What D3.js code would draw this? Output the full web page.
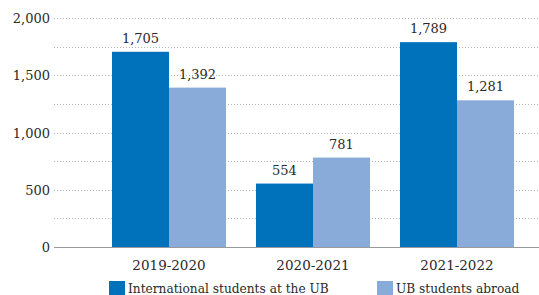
<!DOCTYPE html>
<html><head><meta charset="utf-8">
<script src="https://cdn.jsdelivr.net/npm/d3@7"></script>
<style>
html,body{margin:0;padding:0;background:#fff;}
text{font-family:"DejaVu Serif",serif;fill:#2a2a2a;}
</style></head>
<body><svg id="c" width="539" height="295"></svg>
<script>
const categories = ["2019-2020", "2020-2021", "2021-2022"];
const seriesNames = ["International students at the UB", "UB students abroad"];
const international = [1705, 554, 1789];
const abroad = [1392, 781, 1281];
const yTicks = [0, 500, 1000, 1500, 2000];
const gridTicks = [250, 500, 750, 1000, 1250, 1500, 1750, 2000];
const colors = ["#0072bc", "#88abd9"];

const svg = d3.select("#c");
const W = 539;
const y = d3.scaleLinear().domain([0, 2000]).range([247, 18]);
const x = d3.scaleBand().domain(categories).range([97, 529]).paddingInner(30/144).paddingOuter(15/144);
const xs = d3.scaleBand().domain(seriesNames).range([0, x.bandwidth()]);

svg.append("g").selectAll("line").data(gridTicks).join("line")
  .attr("x1", 54).attr("x2", W).attr("y1", d => Math.round(y(d)) + 0.5).attr("y2", d => Math.round(y(d)) + 0.5)
  .attr("stroke", "#b5b5b5").attr("stroke-width", 1).attr("stroke-dasharray", "1,2");

const yAxis = svg.append("g").attr("transform", "translate(50,0)")
  .call(d3.axisLeft(y).tickValues(yTicks).tickSize(0).tickPadding(0).tickFormat(d3.format(",")));
yAxis.select(".domain").remove();
yAxis.selectAll("text").style("font-family", "DejaVu Serif").style("font-size", "13px").attr("fill", "#2a2a2a").attr("dy", "0.35em");

const data = categories.map((c, i) => ({c, vals: [international[i], abroad[i]]}));
const g = svg.append("g").selectAll("g").data(data).join("g")
  .attr("transform", d => `translate(${x(d.c)},0)`);
g.selectAll("rect").data(d => d.vals.map((v, j) => ({v, s: seriesNames[j], j}))).join("rect")
  .attr("x", d => xs(d.s)).attr("width", xs.bandwidth())
  .attr("y", d => y(d.v)).attr("height", d => y(0) - y(d.v))
  .attr("fill", d => colors[d.j]);
g.selectAll("text").data(d => d.vals.map((v, j) => ({v, s: seriesNames[j], j}))).join("text")
  .attr("x", d => xs(d.s) + xs.bandwidth() / 2).attr("y", d => y(d.v) - 9)
  .attr("text-anchor", "middle").style("font-size", "13px")
  .text(d => d3.format(",")(d.v));

svg.append("line").attr("x1", 54).attr("x2", W).attr("y1", 247.5).attr("y2", 247.5)
  .attr("stroke", "#999").attr("stroke-width", 1);

const xAxis = svg.append("g").attr("transform", "translate(0,247)")
  .call(d3.axisBottom(x).tickSize(0).tickPadding(0));
xAxis.select(".domain").remove();
xAxis.selectAll("text").style("font-family", "DejaVu Serif").style("font-size", "13.5px").attr("fill", "#2a2a2a").attr("dy", "23px").attr("y", 0);

const legendX = [109, 377];
const lg = svg.append("g").selectAll("g").data(seriesNames).join("g")
  .attr("transform", (d, i) => `translate(${legendX[i]},281)`);
lg.append("rect").attr("width", 16).attr("height", 15).attr("fill", (d, i) => colors[i]);
lg.append("text").attr("x", 19).attr("y", 12).style("font-size", "12.2px").text(d => d);
</script></body></html>
